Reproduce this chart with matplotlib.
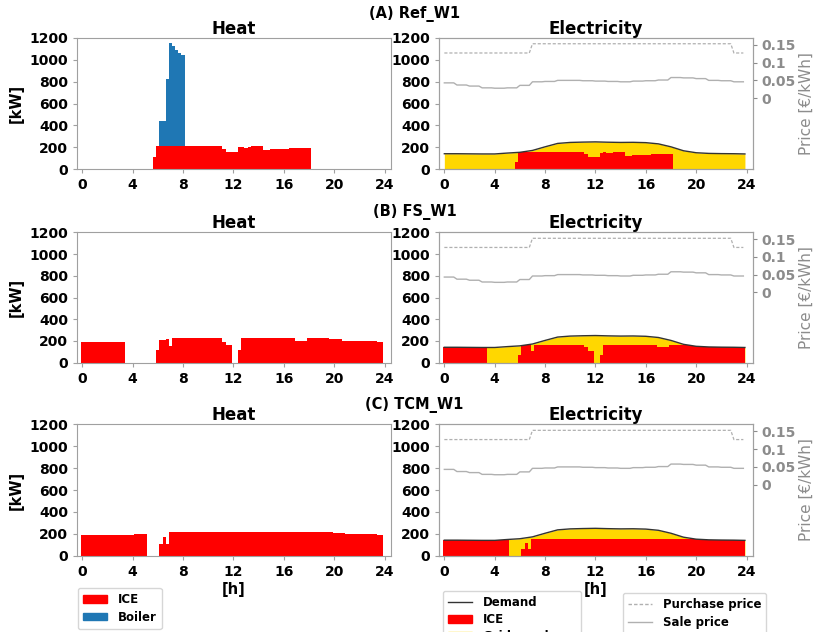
import numpy as np
import matplotlib
matplotlib.use("Agg")
import matplotlib.pyplot as plt
from matplotlib.patches import Patch
from matplotlib.lines import Line2D

# ---------------- data (15-min resolution, 96 slots) ----------------
t = np.arange(96) * 0.25
hours = np.arange(25)

scenarios = ["(A) Ref_W1", "(B) FS_W1", "(C) TCM_W1"]

heat_ice_ref = ([0]*23 + [110] + [210]*21 + [185] + [158]*4 + [200, 205, 195, 200]
                + [210]*4 + [172]*2 + [182]*6 + [192]*7 + [0]*23)
heat_boiler_ref = [0]*25 + [230, 230, 610, 940, 910, 875, 850, 835] + [0]*63

heat_ice_fs = ([191]*14 + [0]*10 + [114] + [210]*2 + [215] + [155] + [225]*16 + [192]
               + [163]*2 + [0]*2 + [114] + [225]*17 + [203]*4 + [225]*7 + [215]*4
               + [200]*11 + [191]*2)
heat_boiler_fs = [0]*96

heat_ice_tcm = ([185]*17 + [194]*4 + [0]*4 + [108, 169, 108] + [212]*52 + [205]*4
                + [194]*10 + [186]*2)
heat_boiler_tcm = [0]*96

elec_ice_ref = ([0]*23 + [70] + [160]*21 + [140] + [110]*4 + [150, 155, 148, 152]
                + [160]*4 + [125]*2 + [132]*6 + [140]*7 + [0]*23)
elec_ice_fs = ([140]*14 + [0]*10 + [71] + [160]*2 + [160] + [105] + [163]*16 + [145]
               + [108]*2 + [0]*2 + [71] + [163]*17 + [148]*4 + [163]*7 + [155]*4
               + [142]*11 + [140]*2)
elec_ice_tcm = ([140]*17 + [142]*4 + [0]*4 + [62, 120, 62] + [157]*52 + [148]*4
                + [140]*10 + [140]*2)

demand = [142, 142, 141, 140, 140, 148, 155, 172, 205, 236, 245, 248, 250, 247,
          245, 246, 243, 232, 205, 169, 151, 145, 143, 142, 140]

purchase_hourly = [0.127]*7 + [0.153]*16 + [0.127]
sale_hourly = [0.043, 0.037, 0.034, 0.029, 0.028, 0.029, 0.036, 0.046, 0.047, 0.050,
               0.050, 0.049, 0.048, 0.047, 0.046, 0.048, 0.049, 0.051, 0.058, 0.057,
               0.055, 0.050, 0.049, 0.046]

heat_ice = [heat_ice_ref, heat_ice_fs, heat_ice_tcm]
heat_boiler = [heat_boiler_ref, heat_boiler_fs, heat_boiler_tcm]
elec_ice = [elec_ice_ref, elec_ice_fs, elec_ice_tcm]

purchase = np.repeat(purchase_hourly, 4)
sale = np.repeat(sale_hourly, 4)

# ---------------- styling ----------------
RED = "#FF0000"
BLUE = "#1f77b4"
GOLD = "#FFD700"
GREY = "#8c8c8c"
SPINE = "#a0a0a0"
plt.rcParams["font.family"] = ["DejaVu Sans"]
plt.rcParams["font.weight"] = "bold"

fig = plt.figure(figsize=(8.13, 6.32), dpi=100)

W, H = 813, 632
left_l, left_r = 77.3 / W, 439.3 / W
aw = 313.5 / W
rows = [(169.3, 131.6), (362.7, 130.4), (555.7, 131.4)]
row_title_y = [14, 212, 405]

xt = [0, 4, 8, 12, 16, 20, 24]
yt = [0, 200, 400, 600, 800, 1000, 1200]


def style(ax):
    for s in ax.spines.values():
        s.set_color(SPINE)
    ax.tick_params(labelsize=10, colors="black", length=3, width=0.8)
    ax.tick_params(axis="both", color=SPINE)
    for lab in ax.get_xticklabels() + ax.get_yticklabels():
        lab.set_fontweight("bold")


for r in range(3):
    bpx, hpx = rows[r]
    bottom = 1 - bpx / H
    height = hpx / H

    # Heat
    axh = fig.add_axes([left_l, bottom, aw, height])
    axh.bar(t, heat_ice[r], width=0.25, color=RED, linewidth=0)
    axh.bar(t, heat_boiler[r], width=0.25, bottom=heat_ice[r], color=BLUE, linewidth=0)
    axh.set_xlim(-0.4, 24.5)
    axh.set_ylim(0, 1200)
    axh.set_xticks(xt)
    axh.set_yticks(yt)
    axh.set_ylabel("[kW]", fontsize=10.5, fontweight="bold", labelpad=4)
    axh.set_title("Heat", fontsize=12, fontweight="bold", pad=3)
    style(axh)

    # Electricity
    axe = fig.add_axes([left_r, bottom, aw, height])
    dem_x = np.clip(hours, 0, 23.875)
    axe.fill_between(dem_x, 0, demand, color=GOLD, linewidth=0)
    axe.bar(t, elec_ice[r], width=0.25, color=RED, linewidth=0)
    axe.plot(dem_x, demand, color="#333333", linewidth=1.0)
    axe.set_xlim(-0.4, 24.5)
    axe.set_ylim(0, 1200)
    axe.set_xticks(xt)
    axe.set_yticks(yt)
    axe.set_title("Electricity", fontsize=12, fontweight="bold", pad=3)
    style(axe)

    axp = axe.twinx()
    axp.plot(t, purchase, color="#b0b0b0", linestyle="--", linewidth=0.9, dashes=(2.5, 1.5))
    axp.plot(t, sale, color="#b0b0b0", linestyle="-", linewidth=1.0)
    axp.set_ylim(-0.2, 0.17)
    axp.set_yticks([0, 0.05, 0.1, 0.15])
    axp.set_yticklabels(["0", "0.05", "0.1", "0.15"])
    for s in axp.spines.values():
        s.set_color(SPINE)
    axp.tick_params(axis="y", labelsize=10, colors=GREY, length=3, width=0.8)
    for lab in axp.get_yticklabels():
        lab.set_fontweight("bold")
    axp.set_ylabel("Price [€/kWh]", fontsize=11, color=GREY, fontweight="normal", labelpad=2)

    if r == 2:
        axh.set_xlabel("[h]", fontsize=10.5, fontweight="bold", labelpad=2)
        axe.set_xlabel("[h]", fontsize=10.5, fontweight="bold", labelpad=2)

    fig.text(0.51, 1 - row_title_y[r] / H, scenarios[r], ha="center", va="center",
             fontsize=10.5, fontweight="bold")

# ---------------- legends ----------------
leg_kw = dict(frameon=True, loc="upper left", labelspacing=0.36, borderaxespad=0.0,
              handlelength=2.0, handleheight=0.6, borderpad=0.45, handletextpad=0.9,
              prop={"weight": "bold", "size": 8.5})

l1 = fig.legend(handles=[Patch(color=RED, label="ICE"), Patch(color=BLUE, label="Boiler")],
                bbox_to_anchor=(78 / W, 1 - 588 / H), **leg_kw)
l2 = fig.legend(handles=[Line2D([], [], color="#333333", lw=1.0, label="Demand"),
                         Patch(color=RED, label="ICE"),
                         Patch(color=GOLD, label="Grid purchase")],
                bbox_to_anchor=(443 / W, 1 - 590.5 / H), **leg_kw)
l3 = fig.legend(handles=[Line2D([], [], color="#b0b0b0", lw=1.0, ls="--", dashes=(2.5, 1.5),
                                label="Purchase price"),
                         Line2D([], [], color="#b0b0b0", lw=1.0, label="Sale price")],
                bbox_to_anchor=(623 / W, 1 - 593 / H), **leg_kw)

fig.savefig("out.png", dpi=100)
